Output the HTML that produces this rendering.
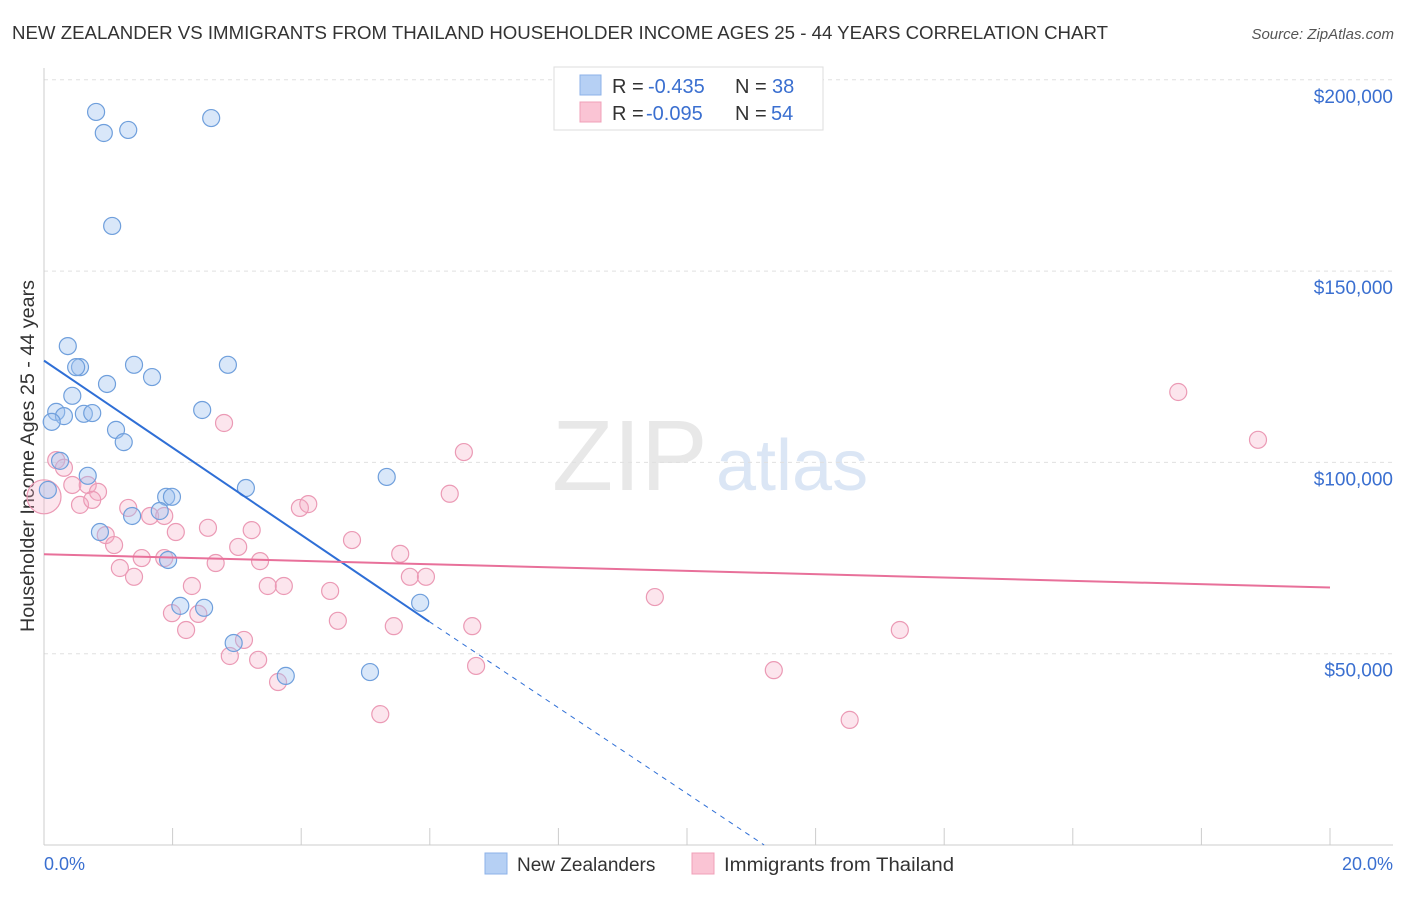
<!DOCTYPE html>
<html><head><meta charset="utf-8"><style>
body{margin:0;background:#fff;font-family:"Liberation Sans",sans-serif;}
svg text{font-family:"Liberation Sans",sans-serif;}
</style></head><body>
<svg id="chart" width="1406" height="892" xmlns="http://www.w3.org/2000/svg">
<text x="12" y="39" font-size="18" fill="#333" textLength="1096" lengthAdjust="spacingAndGlyphs">NEW ZEALANDER VS IMMIGRANTS FROM THAILAND HOUSEHOLDER INCOME AGES 25 - 44 YEARS CORRELATION CHART</text>
<text x="1394" y="39" font-size="15" fill="#555" font-style="italic" text-anchor="end">Source: ZipAtlas.com</text>
<text x="552" y="490" font-size="100" fill="#e8e8e8" font-family="Liberation Serif">ZIP</text>
<text x="716" y="490" font-size="72" fill="#dbe6f5">atlas</text>
<g id="grid"></g>
<line x1="44" y1="68" x2="44" y2="845" stroke="#ccc"/>
<line x1="44" y1="845" x2="1393" y2="845" stroke="#ccc"/>
<text x="34" y="456" font-size="19" fill="#333" text-anchor="middle" textLength="352" lengthAdjust="spacingAndGlyphs" transform="rotate(-90 34 456)">Householder Income Ages 25 - 44 years</text>
<text x="44" y="870" font-size="18" fill="#3a6fd0">0.0%</text>
<text x="1393" y="870" font-size="18" fill="#3a6fd0" text-anchor="end">20.0%</text>
<g id="marks"></g>
<g>
<rect x="554" y="67" width="269" height="63" fill="#fff" stroke="#ddd"/>
<rect x="580" y="75" width="21" height="20" fill="#b6d0f4" stroke="#8cb2e8"/>
<rect x="580" y="102" width="21" height="20" fill="#fac4d4" stroke="#f0a0b8"/>
<text x="612" y="93" font-size="20" fill="#333">R =</text>
<text x="648" y="93" font-size="20" fill="#3a6fd0">-0.435</text>
<text x="735" y="93" font-size="20" fill="#333">N =</text>
<text x="772" y="93" font-size="20" fill="#3a6fd0">38</text>
<text x="612" y="120" font-size="20" fill="#333">R =</text>
<text x="646" y="120" font-size="20" fill="#3a6fd0">-0.095</text>
<text x="735" y="120" font-size="20" fill="#333">N =</text>
<text x="771" y="120" font-size="20" fill="#3a6fd0">54</text>
</g>
<g>
<rect x="485" y="853" width="22" height="21" fill="#b6d0f4" stroke="#8cb2e8"/>
<text x="517" y="871" font-size="19" fill="#333">New Zealanders</text>
<rect x="692" y="853" width="22" height="21" fill="#fac4d4" stroke="#f0a0b8"/>
<text x="724" y="871" font-size="19" fill="#333" textLength="230" lengthAdjust="spacingAndGlyphs">Immigrants from Thailand</text>
</g>
</svg>
<script>
const yTicks=[50000,100000,150000,200000];
const yTickLabels=["$50,000","$100,000","$150,000","$200,000"];
const xTicks=[2,4,6,8,10,12,14,16,18,20];
const blueX=[0.81,0.93,1.31,2.60,1.06,0.37,0.56,1.40,0.98,1.68,2.86,0.44,0.19,0.31,0.62,0.75,2.46,0.12,1.12,1.24,0.25,0.68,3.14,5.33,0.06,1.90,1.99,1.80,1.37,0.87,1.93,2.12,2.49,5.85,2.95,3.76,5.07,0.50];
const blueY=[191600,186100,186900,190000,161800,130400,124900,125500,120500,122300,125500,117400,113200,112100,112700,112900,113700,110600,108500,105300,100400,96500,93300,96200,92800,91000,91000,87300,86000,81800,74500,62500,62000,63300,52800,44200,45200,124900];
const pinkX=[0,0.19,0.31,0.44,0.68,0.84,0.56,0.75,0.96,1.09,1.18,1.40,1.31,1.65,1.52,2.05,1.87,1.99,2.21,2.30,2.40,2.55,2.67,2.80,3.02,3.23,3.36,3.48,3.73,2.89,3.11,3.33,3.64,3.98,4.11,4.45,4.57,4.79,5.23,5.44,5.54,5.69,5.94,6.31,6.53,6.66,6.72,9.50,11.35,12.53,13.31,17.64,18.88,1.87];
const pinkY=[91000,100600,98600,94100,94100,92300,88900,90200,81000,78400,72400,70100,88100,86000,75000,81800,75000,60600,56200,67700,60400,82900,73700,110300,77900,82300,74200,67700,67700,49400,53600,48400,42600,88100,89100,66400,58600,79700,34200,57200,76100,70100,70100,91800,102700,57200,46800,64800,45700,32700,56200,118400,105900,86000];
const blueTrend=[126600,58400,5.99,11.2];
const pinkTrend=[76000,67300];
const NS="http://www.w3.org/2000/svg";
const xs=v=>44+v*64.3;
const ys=v=>845-v/50000*191.3;
const grid=document.getElementById('grid'),marks=document.getElementById('marks');
function mk(tag,attrs,parent){const e=document.createElementNS(NS,tag);for(const k in attrs)e.setAttribute(k,attrs[k]);parent.appendChild(e);return e;}
yTicks.forEach((t,i)=>{
 const l=mk('line',{x1:44,x2:1393,y1:ys(t),y2:ys(t),stroke:'#e0e0e0','stroke-dasharray':'4,4'},grid);
 
 
 const tx=mk('text',{x:1393,y:ys(t)+23,'font-size':19,fill:'#3a6fd0','text-anchor':'end'},grid);
 tx.textContent=yTickLabels[i];
 
 
});
xTicks.forEach(t=>{
 const l=mk('line',{x1:xs(t),x2:xs(t),y1:828,y2:845,stroke:'#ccc'},grid);
 
 
});
pinkX.forEach((x,i)=>{
 const c=mk('circle',{cx:xs(x),cy:ys(pinkY[i]),r:i===0?17:8.5,fill:'rgba(245,170,195,0.3)',stroke:'#eb9ab5','stroke-width':1.2},marks);
 
 
});
blueX.forEach((x,i)=>{
 const c=mk('circle',{cx:xs(x),cy:ys(blueY[i]),r:8.5,fill:'rgba(160,195,240,0.4)',stroke:'#6f9fdc','stroke-width':1.2},marks);
 
 
});
const bl=mk('line',{x1:xs(0),y1:ys(blueTrend[0]),x2:xs(blueTrend[2]),y2:ys(blueTrend[1]),stroke:'#2f6fd6','stroke-width':2},marks);


const bd=mk('line',{x1:xs(blueTrend[2]),y1:ys(blueTrend[1]),x2:xs(blueTrend[3]),y2:ys(0),stroke:'#2f6fd6','stroke-width':1,'stroke-dasharray':'5,5'},marks);


const pl=mk('line',{x1:xs(0),y1:ys(pinkTrend[0]),x2:xs(20),y2:ys(pinkTrend[1]),stroke:'#e8709a','stroke-width':2},marks);


</script>
</body></html>
